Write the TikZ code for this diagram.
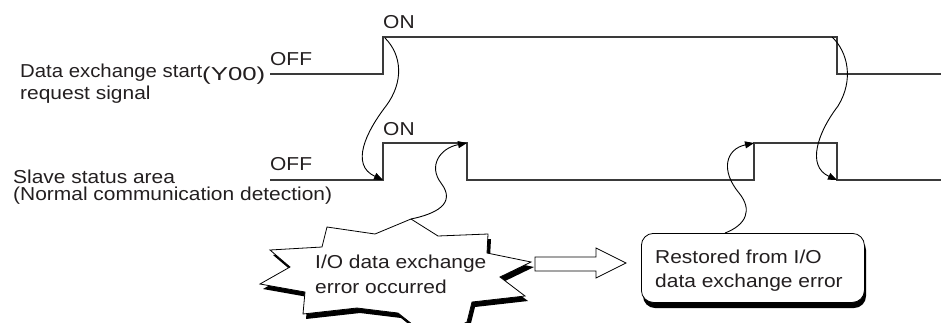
\documentclass[tikz,border=0pt]{standalone}
\usepackage{graphicx}
\usepackage{fontspec}
\setmainfont{Liberation Sans}
\usetikzlibrary{arrows.meta}
\definecolor{sigcol}{HTML}{3A3A3A}
\definecolor{txtcol}{HTML}{231F20}
\newcommand\wt[2]{\scalebox{#1}[1]{#2}}
\begin{document}
\begin{tikzpicture}[x=1pt,y=-1pt,
  sig/.style={draw=sigcol, line width=1.3pt, line join=miter},
  cause/.style={draw=black, line width=0.9pt, -{Triangle[length=9pt,width=7pt]}},
  lbl/.style={font=\fontsize{18.7pt}{22pt}\selectfont, inner sep=0pt, anchor=base west, text=txtcol}]
\useasboundingbox (0,0) rectangle (941,322);
\clip (0,0) rectangle (941,322);

% signal labels
\node[lbl] (t1a) at (20,77.5) {\wt{1.088}{Data exchange start}};
\node[lbl] (t1b) at (20,99) {\wt{1.12}{request signal}};
\node[lbl] (y00) at (202,80) {\wt{1.38}{(Y00)}};
\node[lbl] (t2a) at (13,183) {\wt{1.12}{Slave status area}};
\node[lbl] (t2b) at (13,200.5) {\wt{1.12}{(Normal communication detection)}};
\node[lbl] (on1) at (383,28) {\wt{1.12}{ON}};
\node[lbl] (off1) at (270,65) {\wt{1.12}{OFF}};
\node[lbl] (on2) at (383,135) {\wt{1.12}{ON}};
\node[lbl] (off2) at (270,170) {\wt{1.12}{OFF}};

% key points
\coordinate (upA) at (383,37);
\coordinate (dnA) at (837,37);
\coordinate (upB) at (383,180);
\coordinate (fallB) at (467,143);
\coordinate (upC) at (754,143);
\coordinate (dnC) at (837,180);

% signals
\draw[sig] (270,74) -- (383,74) -- (upA) -- (dnA) -- (837,74) -- (941,74);
\draw[sig] (270,180) -- (upB) -- (383,143) -- (fallB) -- (467,180) -- (754,180) -- (upC) -- (837,143) -- (dnC) -- (941,180);

% burst with shadow
\def\burstpath{(411,219) -- (438,236) -- (488,234) -- (487,253) -- (531,262) -- (500,277) -- (525,296) -- (472,302) -- (467,322) -- (432,340) -- (398,313) -- (357,308) -- (303,314) -- (305,292) -- (260,284) -- (290,267) -- (270,250) -- (322,247) -- (327,227) -- (375,234) -- cycle}
\begin{scope}[shift={(3,5)}]
  \fill[black] \burstpath;
\end{scope}
\filldraw[fill=white, draw=black, line width=0.8pt, line join=miter] \burstpath;
\coordinate (bursttop) at (411,219);
\coordinate (burstright) at (531,262);
\node[lbl] (e1) at (315,268) {\wt{1.12}{I/O data exchange}};
\node[lbl] (e2) at (315,293) {\wt{1.12}{error occurred}};

% restored box with shadow
\fill[black, rounded corners=12pt] (643,238) rectangle (866,308);
\node[draw=black, fill=white, line width=0.8pt, rounded corners=12pt, minimum width=223pt, minimum height=69pt, inner sep=0pt, anchor=north west] (box) at (641,233) {};
\node[lbl] (r1) at (655,263) {\wt{1.12}{Restored from I/O}};
\node[lbl] (r2) at (655,287) {\wt{1.12}{data exchange error}};
\coordinate (boxtop) at (725,233);

% hollow arrow
\filldraw[fill=white, draw=black, line width=0.8pt, line join=miter]
  (535,257) -- (596,257) -- (596,248) -- (626,263) -- (596,278) -- (596,271) -- (535,271) -- cycle;

% cause arrows
\draw[cause] (385,38) .. controls (402,55) and (404,82) .. (386,106)
  .. controls (366,132) and (350,165) .. (upB);
\draw[cause] (832,37) .. controls (848,52) and (854,80) .. (838,106)
  .. controls (818,132) and (806,166) .. (dnC);
\draw[cause] (bursttop) .. controls (435,214) and (457,204) .. (441,183)
  .. controls (428,166) and (440,148) .. (fallB);
\draw[cause] (boxtop) .. controls (746,225) and (753,210) .. (739,193)
  .. controls (720,170) and (726,149) .. (upC);
\end{tikzpicture}
\end{document}
